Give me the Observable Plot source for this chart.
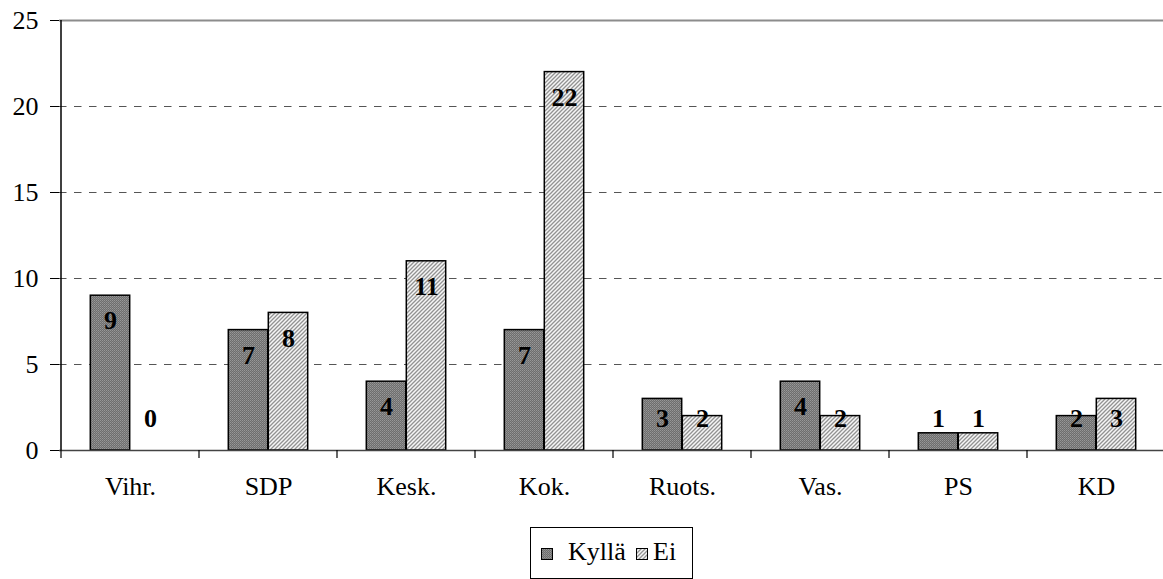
<!DOCTYPE html>
<html><head><meta charset="utf-8">
<script src="https://cdn.jsdelivr.net/npm/d3@7"></script>
<script src="https://cdn.jsdelivr.net/npm/@observablehq/plot@0.6"></script>
<style>
body{margin:0;background:#fff;font-family:"Liberation Serif","Times New Roman",serif;}
#chart{position:relative;width:1163px;height:579px;overflow:hidden}
#legend{position:absolute;left:530px;top:527px;width:163px;height:52px;border:1px solid #000;box-sizing:border-box;font-size:26px;color:#000}
#legend .sw{position:absolute;top:20px;width:12px;height:12px;box-sizing:border-box;border:1px solid #000}
#legend .lb{position:absolute;top:9px;line-height:30px}
</style></head><body>
<svg width="0" height="0" style="position:absolute">
  <defs>
    <pattern id="pat-kylla" patternUnits="userSpaceOnUse" width="2" height="2">
      <rect width="2" height="2" fill="#6e6e6e"/>
      <rect x="0" y="0" width="1" height="1" fill="#989898"/>
      <rect x="1" y="1" width="1" height="1" fill="#888888"/>
    </pattern>
    <pattern id="pat-ei" patternUnits="userSpaceOnUse" width="4" height="4">
      <rect width="4" height="4" fill="#f6f6f6"/>
      <path d="M-1,1 l2,-2 M0,4 l4,-4 M3,5 l2,-2" stroke="#929292" stroke-width="1.3"/>
    </pattern>
  </defs>
</svg>
<div id="chart">
  <div id="legend">
    <div class="sw" style="left:10px" id="sw1"></div>
    <div class="lb" style="left:37px">Kyllä</div>
    <div class="sw" style="left:105px" id="sw2"></div>
    <div class="lb" style="left:122px">Ei</div>
  </div>
</div>
<script>
const categories = ["Vihr.", "SDP", "Kesk.", "Kok.", "Ruots.", "Vas.", "PS", "KD"];
const kylla = [9, 7, 4, 7, 3, 4, 1, 2];
const ei = [0, 8, 11, 22, 2, 2, 1, 3];
const series = ["Kyllä", "Ei"];
const yTicks = [0, 5, 10, 15, 20, 25];

const rows = categories.flatMap((c, i) => [
  {cat: c, series: series[0], value: kylla[i]},
  {cat: c, series: series[1], value: ei[i]}
]);
const rowsK = rows.filter(d => d.series === "Kyllä");
const rowsE = rows.filter(d => d.series === "Ei");

const labelY = d => Math.max(d.value - 1.48, 1.86);

const decorations = (index, scales, values, dimensions) => {
  const g = d3.create("svg:g");
  const x = scales.x, y = scales.y;
  const step = x(categories[1]) - x(categories[0]);
  const y0 = y(0);
  const bounds = categories.map(c => x(c)).concat([x(categories[categories.length - 1]) + step]);
  g.selectAll("line.xt").data(bounds).join("line")
    .attr("x1", d => d).attr("x2", d => d)
    .attr("y1", y0).attr("y2", y0 + 8)
    .attr("stroke", "#000").attr("stroke-width", 1.2);
  g.append("line")
    .attr("x1", x(categories[0])).attr("x2", x(categories[0]))
    .attr("y1", y(25)).attr("y2", y0)
    .attr("stroke", "#000").attr("stroke-width", 1.5);
  return g.node();
};

const plot = Plot.plot({
  width: 1163,
  height: 520,
  marginLeft: 59,
  marginRight: 0,
  marginTop: 20,
  marginBottom: 70,
  style: {fontFamily: "'Liberation Serif', 'Times New Roman', serif", fontSize: "26px", color: "#000", background: "transparent"},
  x: {domain: categories, range: [59, 1167.8], padding: 0, label: null},
  y: {domain: [0, 25], label: null},
  marks: [
    Plot.ruleY(yTicks.filter(t => t > 0 && t < 25), {stroke: "#555", strokeWidth: 1.2, strokeDasharray: "7.5,7.5"}),
    Plot.ruleY([25], {stroke: "#8c8c8c", strokeWidth: 2}),
    Plot.barY(rowsK, {x: "cat", y: "value", fill: "url(#pat-kylla)", stroke: "#000", strokeWidth: 1.5, insetLeft: 29.3, insetRight: 69.3}),
    Plot.barY(rowsE, {x: "cat", y: "value", fill: "url(#pat-ei)", stroke: "#000", strokeWidth: 1.5, insetLeft: 69.3, insetRight: 29.3}),
    Plot.ruleY([0], {stroke: "#444", strokeWidth: 1.5}),
    Plot.text(rowsK, {x: "cat", y: labelY, text: d => String(d.value), dx: -20, fontWeight: "bold", fontSize: 26, fill: "#000"}),
    Plot.text(rowsE, {x: "cat", y: labelY, text: d => String(d.value), dx: 20, fontWeight: "bold", fontSize: 26, fill: "#000"}),
    Plot.axisY({ticks: yTicks, tickSize: 9, tickPadding: 12, stroke: "#000", fontSize: 26}),
    Plot.axisX({tickSize: 0, tickPadding: 26, fontSize: 26}),
    decorations
  ]
});
plot.style.position = "absolute";
plot.style.left = "0";
plot.style.top = "0";
document.getElementById("chart").prepend(plot);

for (const [id, pat] of [["sw1", "pat-kylla"], ["sw2", "pat-ei"]]) {
  const el = document.getElementById(id);
  el.innerHTML = `<svg width="10" height="10" style="display:block"><rect width="10" height="10" fill="url(#${pat})"/></svg>`;
}
</script>
</body></html>
